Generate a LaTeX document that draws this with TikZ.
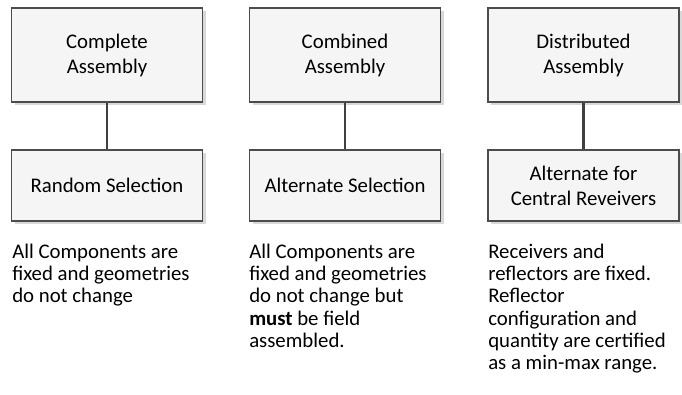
\documentclass[tikz,border=0pt]{standalone}
\usepackage{fontspec}
\setmainfont{Carlito}
\usetikzlibrary{shadows}

\tikzset{
  box/.style={draw=black!70, fill=black!4, line width=0.8pt, minimum width=143.25pt, minimum height=70.5pt,
    align=center, font=\fontsize{15.6}{18.8}\selectfont,
    drop shadow={shadow xshift=2.5pt, shadow yshift=-2.5pt, fill=black!15, opacity=1}},
  note/.style={anchor=north west, inner sep=0pt, align=left, font=\fontsize{15.6}{16.6}\selectfont},
  conn/.style={draw=black!75, line width=1.6pt}
}

\begin{document}
\begin{tikzpicture}[x=0.75pt,y=-0.75pt]

  \useasboundingbox (0,0) rectangle (682,394);

  % Columns: top box, lower box, note below
  \foreach \i/\x/\top/\bot in {
    1/107/{Complete\\Assembly}/{Random Selection},
    2/345/{Combined\\Assembly}/{Alternate Selection},
    3/583.5/{Distributed\\Assembly}/{Alternate for\\Central Reveivers}} {
    \node [box] (top\i) at (\x,55) {\top};
    \node [box, minimum height=53.25pt] (bot\i) at (\x,185.5) {\bot};
    \draw [conn] (top\i) -- (bot\i);
  }

  % Notes under the boxes
  \node [note] (note1) at (12,244) {All Components are\\fixed and geometries\\do not change};
  \node [note] (note2) at (249,244) {All Components are\\fixed and geometries\\do not change but\\\textbf{must} be field\\assembled.};
  \node [note] (note3) at (488,244) {Receivers and\\reflectors are fixed.\\Reflector\\configuration and\\quantity are certified\\as a min-max range.};

\end{tikzpicture}
\end{document}
